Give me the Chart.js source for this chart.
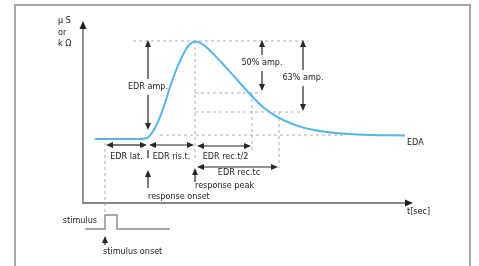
<!DOCTYPE html>
<html>
<head>
<meta charset="utf-8">
<script src="https://cdn.jsdelivr.net/npm/chart.js@4.4.1/dist/chart.umd.min.js"></script>
<style>
  html, body { margin: 0; padding: 0; background: #fff; }
  #wrap { width: 479px; height: 266px; }
</style>
</head>
<body>
<div id="wrap"><canvas id="grafico" width="479" height="266"></canvas></div>
<script>
// EDA response: time (sec, arbitrary) and amplitude
const times = [0.6, 2.85, 3.1, 3.25, 3.4, 3.6, 3.85, 4.1, 4.35, 4.6, 4.85, 5.1, 5.35, 5.6, 5.85, 6.1, 6.5, 6.95, 7.35, 7.85, 8.2, 8.6, 9.0, 9.45, 9.85, 10.35, 10.85, 11.5, 12.1, 13.1, 14.35, 16.1]
const eda = [3.2, 3.2, 3.225, 3.275, 3.45, 3.75, 4.3, 5.0, 5.8, 6.5, 7.1, 7.6, 7.95, 8.08, 8.01, 7.85, 7.47, 7.0, 6.56, 6.0, 5.61, 5.18, 4.8, 4.47, 4.23, 4.0, 3.82, 3.66, 3.56, 3.46, 3.4, 3.375]

// stimulus pulse trace
const stimTimes = [0.1, 1.1, 1.1, 1.7, 1.7, 4.35]
const stimLevel = [-1.3, -1.3, -0.6, -0.6, -1.3, -1.3]

// events on the time axis
const stimOnset = 1.1
const respOnset = 3.25
const respPeak = 5.6
const halfRec = 8.45
const tcRec = 9.8
const amp50At = 8.95
const amp63At = 11.0
const axisEnd = 16.5

// levels
const baseLevel = 3.2
const peakLevel = 8.1
const level50 = 5.5
const level63 = 4.55
const tailLevel = 3.4
const axisTop = 9.1

const pts = (xs, ys) => xs.map((x, i) => ({ x: x, y: ys[i] }))
const seg = (x1, y1, x2, y2) => [{ x: x1, y: y1 }, { x: x2, y: y2 }]

const guides = [
  seg(2.5, peakLevel, 11.25, peakLevel),
  seg(respPeak, peakLevel, respPeak, 2.05),
  seg(respPeak, level50, amp50At, level50),
  seg(respPeak, level63, amp63At, level63),
  seg(halfRec, level50, halfRec, 2.65),
  seg(tcRec, level63, tcRec, 1.75),
  seg(3.85, tailLevel, 13.1, tailLevel),
  seg(stimOnset, 3.0, stimOnset, -0.6)
]

const guideSets = guides.map(g => ({
  data: g,
  borderColor: '#adadad',
  borderWidth: 1,
  borderDash: [3, 3],
  pointRadius: 0,
  tension: 0
}))

const FONT = '9px "DejaVu Sans Condensed", "DejaVu Sans", sans-serif'

function head(c, x, y, dir, L, W) {
  c.beginPath()
  c.moveTo(x, y)
  if (dir === 'up') { c.lineTo(x - W, y + L); c.lineTo(x + W, y + L) }
  if (dir === 'down') { c.lineTo(x - W, y - L); c.lineTo(x + W, y - L) }
  if (dir === 'left') { c.lineTo(x + L, y - W); c.lineTo(x + L, y + W) }
  if (dir === 'right') { c.lineTo(x - L, y - W); c.lineTo(x - L, y + W) }
  c.closePath()
  c.fill()
}

const annotations = {
  id: 'annotations',
  beforeDraw(chart) {
    const c = chart.ctx
    c.save()
    c.strokeStyle = '#a6a6a6'
    c.lineWidth = 2
    c.beginPath()
    c.moveTo(15, 266); c.lineTo(15, 5); c.lineTo(470, 5); c.lineTo(470, 266)
    c.stroke()
    c.restore()
  },
  afterDatasetsDraw(chart) {
    const c = chart.ctx
    const X = v => chart.scales.x.getPixelForValue(v)
    const Y = v => chart.scales.y.getPixelForValue(v)
    c.save()

    // axes
    c.strokeStyle = '#888'
    c.lineWidth = 1.8
    c.beginPath()
    c.moveTo(X(0), Y(axisTop) + 6)
    c.lineTo(X(0), Y(0))
    c.lineTo(X(axisEnd) - 6, Y(0))
    c.stroke()
    c.fillStyle = '#1e1e1e'
    head(c, X(0), Y(axisTop), 'up', 8, 3.5)
    head(c, X(axisEnd), Y(0), 'right', 8, 3.5)

    c.strokeStyle = '#262626'
    c.fillStyle = '#262626'
    c.lineWidth = 1.2
    const line = (x1, y1, x2, y2) => {
      c.beginPath(); c.moveTo(x1, y1); c.lineTo(x2, y2); c.stroke()
    }
    // vertical double arrow with a gap for the label
    const vArrow = (t, top, bottom, gapMid) => {
      const x = X(t), y1 = Y(top), y2 = Y(bottom), g = Y(gapMid)
      line(x, y1 + 6, x, g - 8)
      line(x, g + 8, x, y2 - 6)
      head(c, x, y1, 'up', 7, 3)
      head(c, x, y2, 'down', 7, 3)
    }
    const hArrow = (t1, t2, lev) => {
      const y = Y(lev), x1 = X(t1) + 1, x2 = X(t2) - 1
      line(x1 + 6, y, x2 - 6, y)
      head(c, x1, y, 'left', 7, 3)
      head(c, x2, y, 'right', 7, 3)
    }
    const upArrow = (t, tip, foot) => {
      const x = X(t)
      line(x, Y(tip) + 6, x, Y(foot))
      head(c, x, Y(tip), 'up', 7, 3)
    }

    vArrow(respOnset, 8.15, 3.65, 5.8)
    vArrow(amp50At, 8.15, 5.6, 7.0)
    vArrow(amp63At, 8.15, 4.6, 6.25)

    hArrow(stimOnset, respOnset, 2.9)
    hArrow(respOnset, respPeak, 2.9)
    hArrow(respPeak + 0.05, halfRec, 2.85)
    hArrow(respPeak + 0.05, tcRec, 1.8)
    line(X(respOnset), Y(2.65), X(respOnset), Y(2.25))

    upArrow(respOnset, 1.65, 0.75)
    upArrow(respPeak, 1.75, 1.05)
    upArrow(stimOnset, -1.65, -2.1)

    // labels
    c.fillStyle = '#222'
    c.font = FONT
    c.textBaseline = 'middle'
    const txt = (s, t, v, align) => {
      c.textAlign = align || 'center'
      c.fillText(s, X(t), Y(v))
    }
    txt('EDR amp.', respOnset, 5.8)
    txt('50% amp.', amp50At, 7.0)
    txt('63% amp.', amp63At, 6.25)
    txt('EDR lat.', (stimOnset + respOnset) / 2, 2.3)
    txt('EDR ris.t.', (respOnset + respPeak) / 2, 2.3)
    txt('EDR rec.t/2', (respPeak + halfRec) / 2 + 0.1, 2.3)
    txt('EDR rec.tc', (respPeak + tcRec) / 2 + 0.1, 1.5)
    txt('response peak', respPeak, 0.85, 'left')
    txt('response onset', respOnset, 0.3, 'left')
    txt('EDA', 16.2, 3.0, 'left')
    txt('t[sec]', 16.2, -0.45, 'left')
    txt('stimulus', 0.7, -0.9, 'right')
    txt('stimulus onset', stimOnset - 0.1, -2.45, 'left')
    txt('\u03bc S', -1.25, 9.1, 'left')
    txt('or', -1.25, 8.5, 'left')
    txt('k \u03a9', -1.25, 7.95, 'left')
    c.restore()
  }
}

const grafico = new Chart(document.getElementById('grafico'), {
  type: 'line',
  data: {
    datasets: [
      {
        label: 'EDA',
        data: pts(times, eda),
        borderColor: '#52b6e8',
        borderWidth: 2,
        pointRadius: 0,
        tension: 0.35
      },
      {
        label: 'stimulus',
        data: pts(stimTimes, stimLevel),
        borderColor: '#8c8c8c',
        borderWidth: 1.5,
        pointRadius: 0,
        tension: 0
      },
      ...guideSets
    ]
  },
  options: {
    responsive: false,
    animation: false,
    layout: { padding: 0 },
    plugins: {
      legend: { display: false },
      tooltip: { enabled: false }
    },
    scales: {
      x: { type: 'linear', min: -4.15, max: 19.8, display: false },
      y: { type: 'linear', min: -3.15, max: 10.15, display: false }
    }
  },
  plugins: [annotations]
})
</script>
</body>
</html>
